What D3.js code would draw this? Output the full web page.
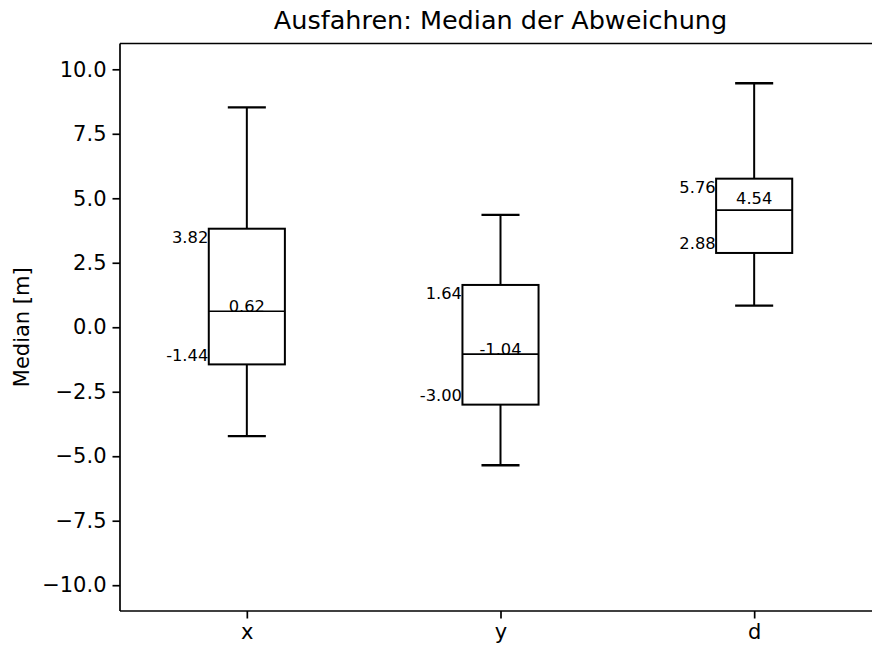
<!DOCTYPE html>
<html>
<head>
<meta charset="utf-8">
<script src="https://cdn.jsdelivr.net/npm/d3@7"></script>
<style>
  html, body { margin: 0; padding: 0; background: #fff; }
  svg { display: block; font-family: "DejaVu Sans", sans-serif; }
</style>
</head>
<body>
<svg id="chart" width="872" height="648"></svg>
<script>
// Box statistics per coordinate (metres)
const categories  = ["x", "y", "d"];
const whiskerLow  = [-4.22, -5.35, 0.84];
const q1          = [-1.44, -3.00, 2.88];
const median      = [0.62, -1.04, 4.54];
const q3          = [3.82, 1.64, 5.76];
const whiskerHigh = [8.52, 4.36, 9.46];
const yTicks      = [-10, -7.5, -5, -2.5, 0, 2.5, 5, 7.5, 10];

const titleText  = "Ausfahren: Median der Abweichung";
const yLabelText = "Median [m]";

const svg = d3.select("#chart");
const plot = { left: 120, right: 881, top: 43.5, bottom: 611 };

const x = d3.scaleLinear().domain([0.5, categories.length + 0.5]).range([plot.left, plot.right]);
const y = d3.scaleLinear().domain([-11, 11]).range([plot.bottom, plot.top]);

const boxWidth = 0.3;          // in x-axis units
const capWidth = boxWidth / 2;
const lw = 2;

const boxes = categories.map((c, i) => ({
  name: c, pos: i + 1,
  lo: whiskerLow[i], q1: q1[i], med: median[i], q3: q3[i], hi: whiskerHigh[i]
}));

// Axes
const yAxis = d3.axisLeft(y).tickValues(yTicks).tickFormat(d3.format(".1f"))
  .tickSizeInner(7.5).tickSizeOuter(0).tickPadding(6);
const gy = svg.append("g").attr("transform", `translate(${plot.left},0)`).call(yAxis);
gy.select(".domain").remove();
gy.selectAll(".tick line").attr("stroke", "#000").attr("stroke-width", 1.7);
gy.selectAll(".tick text").attr("fill", "#000").style("font-size", "21px")
  .style("font-family", "DejaVu Sans");

const xAxis = d3.axisBottom(x).tickValues(boxes.map(b => b.pos))
  .tickFormat((d, i) => categories[i]).tickSizeInner(7.5).tickSizeOuter(0).tickPadding(6);
const gx = svg.append("g").attr("transform", `translate(0,${plot.bottom})`).call(xAxis);
gx.select(".domain").remove();
gx.selectAll(".tick line").attr("stroke", "#000").attr("stroke-width", 1.7);
gx.selectAll(".tick text").attr("fill", "#000").style("font-size", "21px")
  .style("font-family", "DejaVu Sans");

// Boxes
const g = svg.append("g").attr("fill", "none").attr("stroke", "#000");
boxes.forEach(b => {
  const cx = x(b.pos);
  const xl = x(b.pos - boxWidth / 2), xr = x(b.pos + boxWidth / 2);
  const cl = x(b.pos - capWidth / 2), cr = x(b.pos + capWidth / 2);
  // whiskers
  g.append("line").attr("x1", cx).attr("x2", cx).attr("y1", y(b.q3)).attr("y2", y(b.hi)).attr("stroke-width", lw);
  g.append("line").attr("x1", cx).attr("x2", cx).attr("y1", y(b.q1)).attr("y2", y(b.lo)).attr("stroke-width", lw);
  // caps
  g.append("line").attr("x1", cl).attr("x2", cr).attr("y1", y(b.hi)).attr("y2", y(b.hi)).attr("stroke-width", lw + 0.3);
  g.append("line").attr("x1", cl).attr("x2", cr).attr("y1", y(b.lo)).attr("y2", y(b.lo)).attr("stroke-width", lw + 0.3);
  // box
  g.append("rect").attr("x", xl).attr("y", y(b.q3)).attr("width", xr - xl).attr("height", y(b.q1) - y(b.q3))
    .attr("stroke-width", lw);
  // median
  g.append("line").attr("x1", xl).attr("x2", xr).attr("y1", y(b.med)).attr("y2", y(b.med)).attr("stroke-width", 1.6);
});

// Value labels
const lbl = svg.append("g").attr("fill", "#000").style("font-size", "16.3px");
boxes.forEach(b => {
  const xl = x(b.pos - boxWidth / 2);
  lbl.append("text").attr("x", xl - 0.5).attr("y", y(b.q3) + 14.2).attr("text-anchor", "end")
    .text(b.q3.toFixed(2));
  lbl.append("text").attr("x", xl - 0.5).attr("y", y(b.q1) - 3.6).attr("text-anchor", "end")
    .text(b.q1.toFixed(2));
  // keep the median label clear of the upper-quartile label on short boxes
  const medY = (y(b.med) - y(b.q3) < 40) ? y(b.med) - 6 : y(b.med) + 0.5;
  lbl.append("text").attr("x", x(b.pos)).attr("y", medY).attr("text-anchor", "middle")
    .text(b.med.toFixed(2));
});

// Frame
const frame = svg.append("g").attr("stroke", "#000").attr("stroke-width", 1.7).attr("fill", "none");
frame.append("line").attr("x1", plot.left).attr("x2", plot.left).attr("y1", plot.top).attr("y2", plot.bottom);
frame.append("line").attr("x1", plot.left).attr("x2", plot.right).attr("y1", plot.top).attr("y2", plot.top);
frame.append("line").attr("x1", plot.left).attr("x2", plot.right).attr("y1", plot.bottom).attr("y2", plot.bottom);
frame.append("line").attr("x1", plot.right).attr("x2", plot.right).attr("y1", plot.top).attr("y2", plot.bottom);

// Title and axis label
svg.append("text").attr("x", (plot.left + plot.right) / 2).attr("y", 28.5)
  .attr("text-anchor", "middle").style("font-size", "25.5px").attr("fill", "#000").text(titleText);
svg.append("text")
  .attr("transform", `translate(29,${(plot.top + plot.bottom) / 2}) rotate(-90)`)
  .attr("text-anchor", "middle").style("font-size", "21px").attr("fill", "#000").text(yLabelText);
</script>
</body>
</html>
